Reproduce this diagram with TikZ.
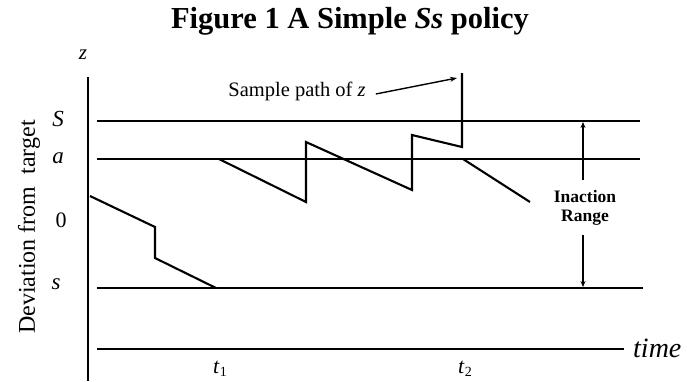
\documentclass[tikz,border=0pt]{standalone}
\usepackage{fontspec}
\setmainfont{Liberation Serif}
\usetikzlibrary{arrows.meta}
\newcommand{\tsub}[1]{\textit{t}\raisebox{-0.35ex}{\fontsize{14}{14}\selectfont #1}}
\begin{document}
\begin{tikzpicture}[x=1pt,y=-1pt,
  axisline/.style={line width=2.2pt},
  levelline/.style={line width=2pt},
  timeline/.style={line width=2.8pt},
  zpath/.style={line width=2.1pt, line join=miter},
  lab/.style={font=\fontsize{23}{23}\selectfont\itshape, inner sep=0pt},
  note/.style={font=\fontsize{20.5}{20.5}\selectfont, inner sep=0pt},
  rangearrow/.style={line width=1.5pt, -{Stealth[length=6pt,width=5pt]}},
  patharrow/.style={line width=1.4pt, -{Stealth[length=7pt,width=5pt]}}]
\useasboundingbox (0,0) rectangle (687,381);

% title
\node[inner sep=0pt, anchor=base, font=\fontsize{30.5}{30.5}\selectfont\bfseries] (title) at (350,28)
  {Figure 1 A Simple \textit{Ss} policy};

% axes
\coordinate (ytop) at (88,77);
\coordinate (ybot) at (88,381);
\draw[axisline] (ytop) -- (ybot);

\coordinate (Sl) at (97,121);  \coordinate (Sr) at (640,121);
\coordinate (al) at (97,159);  \coordinate (ar) at (640,159);
\coordinate (sl) at (97,288);  \coordinate (sr) at (643,288);
\coordinate (tl) at (97,349);  \coordinate (tr) at (624,349);
\draw[levelline] (Sl) -- (Sr);
\draw[levelline] (al) -- (ar);
\draw[levelline] (sl) -- (sr);
\draw[timeline] (tl) -- (tr);

% labels on the axis
\node[lab, font=\fontsize{21}{21}\selectfont\itshape] (zlab) at (83,55) {z};
\node[lab] (Slab) at (58,119) {S};
\node[lab] (alab) at (58,158) {a};
\node[lab, font=\fontsize{22}{22}\selectfont] (zerolab) at (61,220) {0};
\node[lab] (slab) at (56,284) {s};
\node[inner sep=0pt, rotate=90, font=\fontsize{24}{24}\selectfont] (dev) at (29,227) {Deviation from\ \ target};
\node[inner sep=0pt, anchor=base west, font=\fontsize{28}{28}\selectfont\itshape] (time) at (633,357) {time};
\node[inner sep=0pt, font=\fontsize{22}{22}\selectfont] (t1) at (220,369) {\tsub{1}};
\node[inner sep=0pt, font=\fontsize{22}{22}\selectfont] (t2) at (465,369) {\tsub{2}};

% sample path
\coordinate (p1) at (90,196);
\coordinate (p2) at (155,227);
\coordinate (p3) at (155,258);
\coordinate (p4) at (216,288);
\draw[zpath] (p1) -- (p2) -- (p3) -- (p4);
\coordinate (q1) at (219,159);
\coordinate (q2) at (306,202);
\coordinate (q3) at (306,142);
\coordinate (q4) at (412,190);
\coordinate (q5) at (412,135);
\coordinate (q6) at (462,147);
\coordinate (q7) at (462,73);
\draw[zpath] (q1) -- (q2) -- (q3) -- (q4) -- (q5) -- (q6) -- (q7);
\coordinate (r1) at (463,159);
\coordinate (r2) at (530,202);
\draw[zpath] (r1) -- (r2);

% sample path label
\node[note] (sample) at (297,91) {Sample path of \textit{z}};
\coordinate (sampletip) at (457,78);
\draw[patharrow] (sample.east) ++(10pt,-3pt) coordinate (sampletail) (sampletail) -- (sampletip);

% inaction range
\node[inner sep=0pt, align=center, font=\fontsize{17.5}{18.5}\selectfont\bfseries] (inaction) at (585,208) {Inaction\\Range};
\coordinate (upA) at (583,180);
\coordinate (upB) at (583,122);
\coordinate (dnA) at (583,235);
\coordinate (dnB) at (583,287);
\draw[rangearrow] (upA) -- (upB);
\draw[rangearrow] (dnA) -- (dnB);
\end{tikzpicture}
\end{document}
